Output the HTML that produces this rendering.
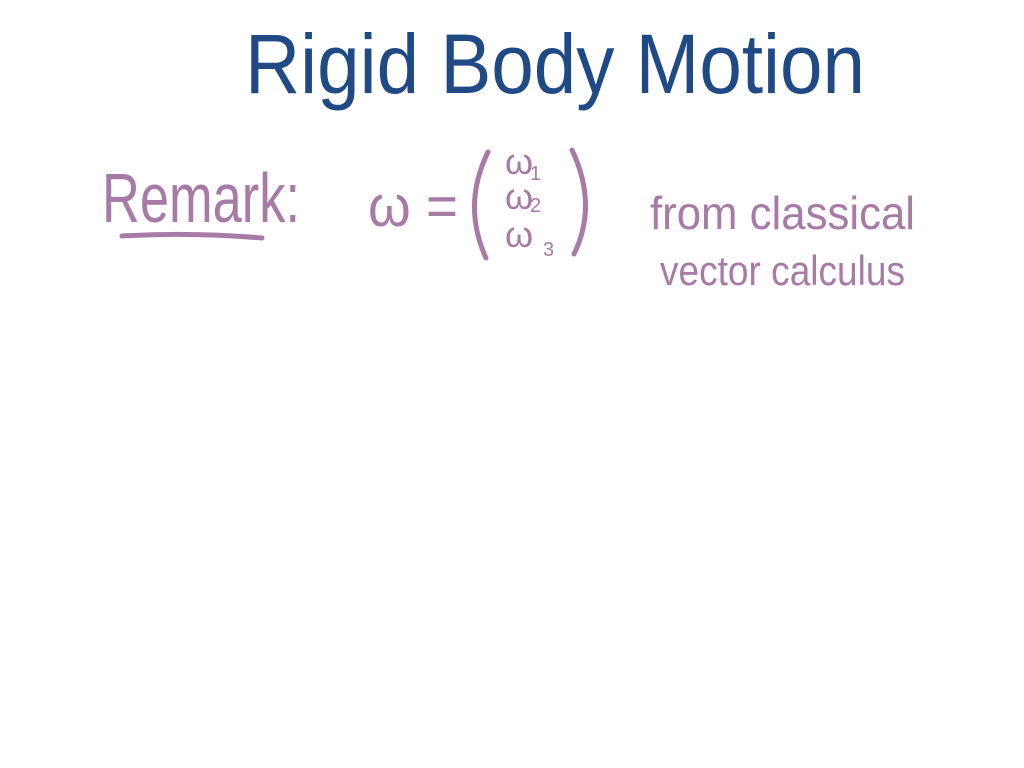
<!DOCTYPE html>
<html><head><meta charset="utf-8"><style>
html,body{margin:0;padding:0;background:#fff;width:1024px;height:768px;overflow:hidden}
svg{display:block}
text{font-family:"Liberation Sans",sans-serif}
</style></head><body>
<svg width="1024" height="768" viewBox="0 0 1024 768">
<g fill="#1f4a85">
<text x="245" y="93" font-size="84" textLength="620" lengthAdjust="spacingAndGlyphs">Rigid Body Motion</text>
</g>
<g fill="#a77ba6">
<text x="102" y="222" font-size="70" textLength="198" lengthAdjust="spacingAndGlyphs">Remark:</text>
<text x="368" y="226" font-size="58" textLength="90" lengthAdjust="spacingAndGlyphs">ω =</text>
<text x="505" y="174" font-size="36">ω</text>
<text x="530" y="180" font-size="20">1</text>
<text x="505" y="209" font-size="36">ω</text>
<text x="530" y="212" font-size="20">2</text>
<text x="505" y="247" font-size="36">ω</text>
<text x="543" y="256" font-size="20">3</text>
<text x="650" y="229" font-size="46" textLength="265" lengthAdjust="spacingAndGlyphs">from classical</text>
<text x="660" y="285" font-size="42" textLength="245" lengthAdjust="spacingAndGlyphs">vector calculus</text>
</g>
<g fill="none" stroke="#a77ba6" stroke-width="5" stroke-linecap="round">
<path d="M122 236 Q190 232 262 238"/>
<path d="M488 152 Q462 205 486 258"/>
<path d="M572 150 Q598 205 574 254"/>
</g>
</svg>
</body></html>
